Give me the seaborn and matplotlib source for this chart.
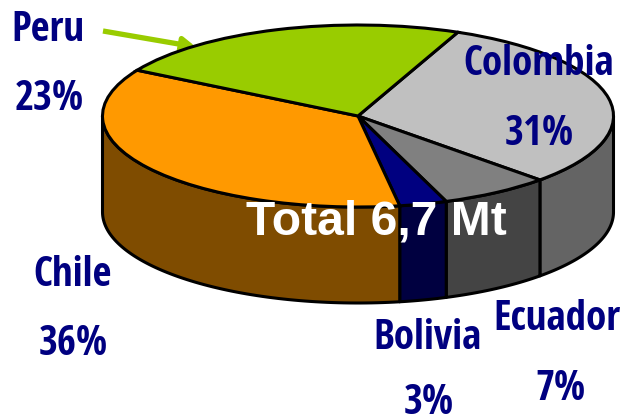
import numpy as np
import matplotlib
matplotlib.use('Agg')
import matplotlib.pyplot as plt
import seaborn as sns

# Data, clockwise from the Colombia/Peru edge
countries = ['Colombia', 'Ecuador', 'Bolivia', 'Chile', 'Peru']
shares = [31, 7, 3, 36, 23]
top_colors = ['#C0C0C0', '#808080', '#000080', '#FF9900', '#99CC00']
side_colors = ['#646464', '#444444', '#000040', '#7F4C00', '#4D6600']
total_label = 'Total 6,7 Mt'

# Layout in picture pixels
W, H = 628, 419
CX, CY, RX, RY = 358, 116, 255.5, 91
DEPTH = 96 / RY
START = 67
name_pos = {'Colombia': (539, 75), 'Ecuador': (557, 330), 'Bolivia': (427, 349),
            'Chile': (73, 286), 'Peru': (48, 41)}
pct_pos = {'Colombia': (539, 145), 'Ecuador': (560, 400), 'Bolivia': (429, 414),
           'Chile': (73, 355), 'Peru': (49, 110)}

sns.set_style('white')
plt.rcParams['font.family'] = ['Open Sans Condensed', 'DejaVu Sans']
navy = sns.color_palette(['#000080'])[0]


def px(x, y):
    # picture pixels to the pie's unit circle
    return (x - CX) / RX, (CY - y) / RY


fig = plt.figure(figsize=(W / 100, H / 100), dpi=100)
ax = fig.add_axes([0, 0, 1, 1])

# Top of the pie; aspect goes back to auto so the circle is squashed
ax.pie(shares, colors=top_colors, startangle=START, counterclock=False, radius=1,
       wedgeprops={'edgecolor': 'black', 'linewidth': 2.2, 'zorder': 3})
ax.set_aspect('auto')
ax.set_xlim(px(0, 0)[0], px(W, 0)[0])
ax.set_ylim(px(0, H)[1], px(0, 0)[1])
ax.axis('off')

# Side walls, only the front half (180 to 360 degrees) shows
edges = START - np.cumsum([0] + shares) * 3.6
for i in range(len(shares)):
    hi = edges[i] % 360
    lo = hi - shares[i] * 3.6
    # shift the span so it lies around the front half
    if hi <= 180:
        hi += 360
        lo += 360
    a = max(lo, 180)
    b = min(hi, 360)
    if b <= a:
        continue
    t = np.radians(np.linspace(a, b, 80))
    xs = np.r_[np.cos(t), np.cos(t[::-1])]
    ys = np.r_[np.sin(t), np.sin(t[::-1]) - DEPTH]
    ax.fill(xs, ys, facecolor=side_colors[i], edgecolor='black', linewidth=2.2,
            zorder=1, joinstyle='round')

# Green pointer from the Peru label, its tip runs in under the pie
ax.annotate('', xy=px(196, 47), xytext=px(103, 31), zorder=2,
            arrowprops=dict(arrowstyle='-|>,head_length=0.75,head_width=0.42',
                            color='#99CC00', lw=3.8, shrinkA=0, shrinkB=0,
                            capstyle='butt'))

for name, share in zip(countries, shares):
    x, y = px(*name_pos[name])
    ax.text(x, y, name, color=navy, fontsize=29.5, ha='center', va='baseline', zorder=5)
    x, y = px(*pct_pos[name])
    ax.text(x, y, f'{share}%', color=navy, fontsize=29.5, ha='center', va='baseline', zorder=5)

x, y = px(376, 234)
ax.text(x, y, total_label, color='white', fontsize=34.6, fontweight='bold', ha='center',
        va='baseline', family=['Liberation Sans', 'DejaVu Sans'], zorder=6)

fig.savefig('out.png', dpi=100)
